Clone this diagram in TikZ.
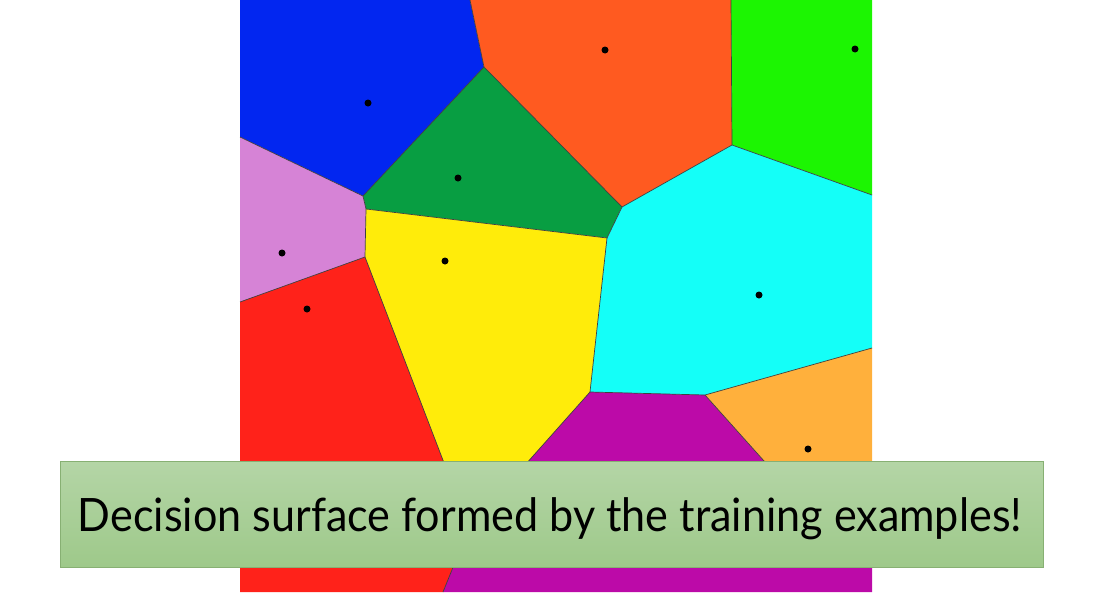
\documentclass[tikz,border=0pt]{standalone}
\usepackage{fontspec}
\setmainfont{Lato}
\usepackage{graphicx}
\definecolor{cblue}{RGB}{2,38,240}
\definecolor{corange}{RGB}{255,90,32}
\definecolor{clime}{RGB}{28,245,2}
\definecolor{cgreen}{RGB}{8,158,66}
\definecolor{cpink}{RGB}{214,131,214}
\definecolor{cyellow}{RGB}{255,236,10}
\definecolor{cred}{RGB}{255,34,26}
\definecolor{ccyan}{RGB}{20,255,248}
\definecolor{cpurple}{RGB}{188,10,168}
\definecolor{clorange}{RGB}{255,176,60}
\definecolor{boxtop}{RGB}{180,213,166}
\definecolor{boxbot}{RGB}{158,201,138}
\definecolor{boxline}{RGB}{135,176,115}
\tikzset{
  cell/.style={draw=black!75, line width=0.7pt, line join=round},
  seed/.style={circle, fill=black, inner sep=0pt, minimum size=7pt},
  caption/.style={draw=boxline, line width=0.8pt, top color=boxtop, bottom color=boxbot, minimum width=983pt, minimum height=106pt, inner sep=0pt}
}
\begin{document}
\begin{tikzpicture}[x=1pt,y=-1pt]
\useasboundingbox (0,0) rectangle (1100,592);
% vertices
\coordinate (A) at (484,67);
\coordinate (At) at (470,0);
\coordinate (B) at (363,196);
\coordinate (C) at (366,209);
\coordinate (D) at (365,257);
\coordinate (E) at (469,528);
\coordinate (F) at (607,238);
\coordinate (G) at (622,207);
\coordinate (H) at (590,392);
\coordinate (I) at (705,395);
\coordinate (J) at (732,145);
\coordinate (Jt) at (731,0);
\coordinate (L1) at (240,137);
\coordinate (L2) at (240,302);
\coordinate (R1) at (872,195);
\coordinate (R2) at (872,348);
\coordinate (R3) at (872,520);
\coordinate (K) at (790,490);
\coordinate (Bt) at (443,592);
% cells
\fill[cblue] (240,0) -- (At) -- (A) -- (B) -- (L1) -- cycle;
\fill[corange] (At) -- (Jt) -- (J) -- (G) -- (A) -- cycle;
\fill[clime] (Jt) -- (872,0) -- (R1) -- (J) -- cycle;
\fill[cgreen] (A) -- (G) -- (F) -- (C) -- (B) -- cycle;
\fill[cpink] (L1) -- (B) -- (C) -- (D) -- (L2) -- cycle;
\fill[cyellow] (C) -- (F) -- (H) -- (E) -- (D) -- cycle;
\fill[cred] (L2) -- (D) -- (E) -- (Bt) -- (240,592) -- cycle;
\fill[ccyan] (G) -- (J) -- (R1) -- (R2) -- (I) -- (H) -- (F) -- cycle;
\fill[cpurple] (H) -- (I) -- (K) -- (R3) -- (872,592) -- (Bt) -- (E) -- cycle;
\fill[clorange] (I) -- (R2) -- (R3) -- (K) -- cycle;
% boundaries
\draw[cell] (At) -- (A) -- (B) -- (L1);
\draw[cell] (A) -- (G) -- (J) -- (Jt);
\draw[cell] (J) -- (R1);
\draw[cell] (B) -- (C) -- (D) -- (L2);
\draw[cell] (C) -- (F) -- (G);
\draw[cell] (F) -- (H) -- (I) -- (R2);
\draw[cell] (D) -- (E) -- (Bt);
\draw[cell] (H) -- (E);
\draw[cell] (I) -- (K) -- (R3);
% seeds
\node[seed] (s1) at (368,103) {};
\node[seed] (s2) at (605,50) {};
\node[seed] (s3) at (855,49) {};
\node[seed] (s4) at (458,178) {};
\node[seed] (s5) at (282,253) {};
\node[seed] (s6) at (445,261) {};
\node[seed] (s7) at (307,309) {};
\node[seed] (s8) at (759,295) {};
\node[seed] (s9) at (808,449) {};
% caption
\node[caption] (box) at (551.5,514) {};
\node[anchor=base, inner sep=0pt] (txt) at (550,531) {\resizebox{944pt}{\height}{\fontsize{46pt}{50pt}\selectfont Decision surface formed by the training examples!}};
\end{tikzpicture}
\end{document}
